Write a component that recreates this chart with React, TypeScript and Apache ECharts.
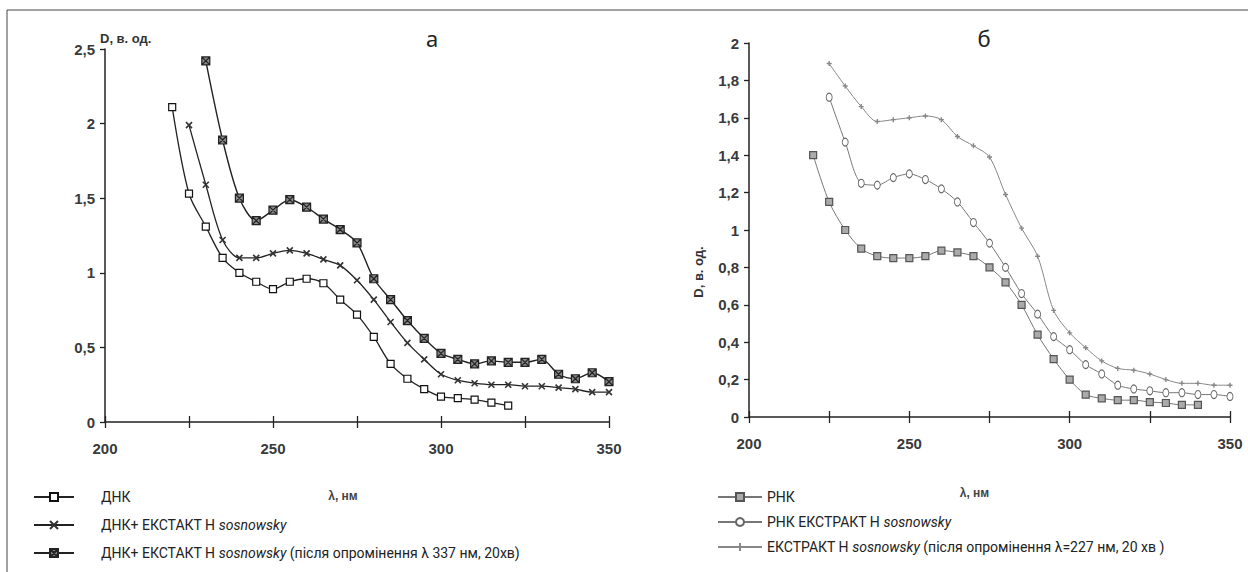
import React, { useEffect, useRef } from "react";
import * as echarts from "echarts";

// ---- data: panel а (ДНК) ----
const WL_DNA = [220, 225, 230, 235, 240, 245, 250, 255, 260, 265, 270, 275, 280, 285, 290, 295, 300, 305, 310, 315, 320];
const DNA = [2.11, 1.53, 1.31, 1.1, 1.0, 0.94, 0.89, 0.94, 0.96, 0.93, 0.82, 0.72, 0.57, 0.39, 0.29, 0.22, 0.17, 0.16, 0.15, 0.13, 0.11];
const WL_DNA_EXT = [225, 230, 235, 240, 245, 250, 255, 260, 265, 270, 275, 280, 285, 290, 295, 300, 305, 310, 315, 320, 325, 330, 335, 340, 345, 350];
const DNA_EXT = [1.99, 1.59, 1.22, 1.1, 1.1, 1.13, 1.15, 1.13, 1.09, 1.05, 0.95, 0.82, 0.67, 0.53, 0.42, 0.32, 0.28, 0.26, 0.25, 0.25, 0.24, 0.24, 0.23, 0.22, 0.2, 0.2];
const WL_DNA_IRR = [230, 235, 240, 245, 250, 255, 260, 265, 270, 275, 280, 285, 290, 295, 300, 305, 310, 315, 320, 325, 330, 335, 340, 345, 350];
const DNA_IRR = [2.42, 1.89, 1.5, 1.35, 1.42, 1.49, 1.44, 1.36, 1.29, 1.2, 0.96, 0.82, 0.68, 0.56, 0.46, 0.42, 0.39, 0.41, 0.4, 0.4, 0.42, 0.32, 0.29, 0.33, 0.27];

// ---- data: panel б (РНК) ----
const WL_RNA = [220, 225, 230, 235, 240, 245, 250, 255, 260, 265, 270, 275, 280, 285, 290, 295, 300, 305, 310, 315, 320, 325, 330, 335, 340];
const RNA = [1.4, 1.15, 1.0, 0.9, 0.86, 0.85, 0.85, 0.86, 0.89, 0.88, 0.86, 0.8, 0.72, 0.6, 0.44, 0.31, 0.2, 0.12, 0.1, 0.09, 0.09, 0.08, 0.075, 0.065, 0.065];
const WL_RNA_EXT = [225, 230, 235, 240, 245, 250, 255, 260, 265, 270, 275, 280, 285, 290, 295, 300, 305, 310, 315, 320, 325, 330, 335, 340, 345, 350];
const RNA_EXT = [1.71, 1.47, 1.25, 1.24, 1.28, 1.3, 1.27, 1.22, 1.15, 1.04, 0.93, 0.8, 0.66, 0.55, 0.43, 0.36, 0.28, 0.23, 0.17, 0.15, 0.14, 0.13, 0.13, 0.12, 0.12, 0.11];
const WL_EXT_IRR = [225, 230, 235, 240, 245, 250, 255, 260, 265, 270, 275, 280, 285, 290, 295, 300, 305, 310, 315, 320, 325, 330, 335, 340, 345, 350];
const EXT_IRR = [1.89, 1.77, 1.66, 1.58, 1.59, 1.6, 1.61, 1.59, 1.5, 1.45, 1.39, 1.19, 1.01, 0.86, 0.57, 0.45, 0.37, 0.3, 0.26, 0.25, 0.23, 0.2, 0.18, 0.18, 0.17, 0.17];

const X_TICKS_LABELED = [200, 250, 300, 350];

const NAMES = {
  dna: "ДНК",
  dnaExt: "ДНК+ ЕКСТАКТ Н sosnowsky",
  dnaIrr: "ДНК+ ЕКСТАКТ Н sosnowsky (після опромінення λ 337 нм, 20хв)",
  rna: "РНК",
  rnaExt: "РНК ЕКСТРАКТ Н sosnowsky",
  extIrr: "ЕКСТРАКТ Н sosnowsky (після опромінення λ=227 нм, 20 хв )",
};

const pairs = (xs: number[], ys: number[]) => xs.map((x, i) => [x, ys[i]]);

const LABEL_FONT = "'Liberation Sans Narrow', 'Liberation Sans', Arial, sans-serif";
const TEXT_FONT = "Roboto, 'Noto Sans', sans-serif";

function legendFormatter(name: string) {
  const idx = name.indexOf("sosnowsky");
  if (idx < 0) return `{n|${name}}`;
  const before = name.slice(0, idx);
  const after = name.slice(idx + "sosnowsky".length);
  return `{n|${before}}{i|sosnowsky}` + (after ? `{n|${after}}` : "");
}

export default function App() {
  const ref = useRef<HTMLDivElement>(null);

  useEffect(() => {
    if (!ref.current) return;
    const chart = echarts.init(ref.current, undefined, { renderer: "svg" });

    const xAxisBase = (grid: number, nameGap: number, padRight: number) => ({
      type: "value",
      gridIndex: grid,
      position: "bottom",
      min: 200,
      max: 350,
      interval: 25,
      name: "λ, нм",
      nameLocation: "middle",
      nameGap,
      nameTextStyle: {
        fontFamily: LABEL_FONT,
        fontWeight: "bold",
        fontSize: 12,
        color: "#444",
        padding: [0, padRight, 0, 0],
      },
      axisLine: { show: true, onZero: false, lineStyle: { color: "#222", width: 1.5 } },
      axisTick: { show: true, length: 6, lineStyle: { color: "#222", width: 1.3 } },
      axisLabel: {
        margin: 19,
        fontFamily: LABEL_FONT,
        fontWeight: "bold",
        fontSize: 15,
        color: "#3a3a3a",
        formatter: (v: number) => (X_TICKS_LABELED.includes(v) ? String(v) : ""),
      },
      splitLine: { show: false },
    });
    const xAxisInner = (grid: number) => ({
      type: "value",
      gridIndex: grid,
      position: "bottom",
      offset: 0,
      min: 200,
      max: 350,
      interval: 25,
      axisLine: { show: false, onZero: false },
      axisTick: { show: true, inside: true, length: 6, lineStyle: { color: "#222", width: 1.3 } },
      axisLabel: { show: false },
      splitLine: { show: false },
    });

    const yLabel = {
      fontFamily: LABEL_FONT,
      fontWeight: "bold",
      fontSize: 15,
      color: "#3a3a3a",
      margin: 10,
      formatter: (v: number) => String(v).replace(".", ","),
    };

    const legendText = {
      fontFamily: TEXT_FONT,
      fontSize: 14,
      color: "#222",
      padding: [0, 0, 0, 22],
      rich: {
        n: { fontFamily: TEXT_FONT, fontSize: 14, color: "#222" },
        i: { fontFamily: TEXT_FONT, fontSize: 14, color: "#222", fontStyle: "italic" },
      },
    };

    const option = {
      animation: false,
      backgroundColor: "#fff",
      graphic: [
        { type: "line", shape: { x1: 7, y1: 10, x2: 1248, y2: 10 }, style: { stroke: "#444", lineWidth: 1 } },
        { type: "line", shape: { x1: 7, y1: 10, x2: 7, y2: 572 }, style: { stroke: "#444", lineWidth: 1 } },
        {
          type: "text",
          x: 432,
          y: 38,
          style: { text: "а", font: "22px 'Noto Sans', sans-serif", fill: "#222", textAlign: "center", textVerticalAlign: "middle" },
        },
        {
          type: "text",
          x: 984,
          y: 38,
          style: { text: "б", font: "22px 'Noto Sans', sans-serif", fill: "#222", textAlign: "center", textVerticalAlign: "middle" },
        },
      ],
      grid: [
        { left: 105, top: 49, width: 504, height: 373 },
        { left: 749, top: 43, width: 481, height: 374 },
      ],
      xAxis: [xAxisBase(0, 68, 28), xAxisInner(0), xAxisBase(1, 70, 30), xAxisInner(1)],
      yAxis: [
        {
          type: "value",
          gridIndex: 0,
          min: 0,
          max: 2.5,
          interval: 0.5,
          name: "D, в. од.",
          nameLocation: "end",
          nameGap: 11,
          nameTextStyle: {
            fontFamily: LABEL_FONT,
            fontWeight: "bold",
            fontSize: 13,
            color: "#333",
            align: "left",
            verticalAlign: "middle",
            padding: [0, 0, 0, -5],
          },
          axisLine: { show: true, onZero: false, lineStyle: { color: "#222", width: 1.5 } },
          axisTick: { show: true, length: 5, lineStyle: { color: "#222", width: 1.3 } },
          axisLabel: yLabel,
          splitLine: { show: false },
        },
        {
          type: "value",
          gridIndex: 1,
          min: 0,
          max: 2,
          interval: 0.2,
          name: "D, в. од.",
          nameLocation: "middle",
          nameRotate: 90,
          nameGap: 44,
          nameTextStyle: {
            fontFamily: LABEL_FONT,
            fontWeight: "bold",
            fontSize: 13,
            color: "#333",
            padding: [0, 84, 0, 0],
          },
          axisLine: { show: true, onZero: false, lineStyle: { color: "#222", width: 1.5 } },
          axisTick: { show: true, length: 5, lineStyle: { color: "#222", width: 1.3 } },
          axisLabel: yLabel,
          splitLine: { show: false },
        },
      ],
      legend: [
        {
          data: [NAMES.dna, NAMES.dnaExt, NAMES.dnaIrr],
          orient: "vertical",
          left: 28,
          top: 485,
          itemWidth: 40,
          itemHeight: 10,
          itemGap: 14,
          formatter: legendFormatter,
          textStyle: legendText,
          selectedMode: false,
        },
        {
          data: [NAMES.rna, NAMES.rnaExt, NAMES.extIrr],
          orient: "vertical",
          left: 712,
          top: 485,
          itemWidth: 44,
          itemHeight: 10,
          itemGap: 11,
          formatter: legendFormatter,
          textStyle: { ...legendText, padding: [0, 0, 0, 0] },
          selectedMode: false,
        },
      ],
      series: [
        {
          name: NAMES.dna,
          type: "line",
          xAxisIndex: 0,
          yAxisIndex: 0,
          data: pairs(WL_DNA, DNA),
          smooth: 0.3,
          symbol: "rect",
          symbolSize: 7,
          lineStyle: { color: "#222", width: 1.3 },
          itemStyle: { color: "#fff", borderColor: "#111", borderWidth: 1.2 },
        },
        {
          name: NAMES.dnaExt,
          type: "line",
          xAxisIndex: 0,
          yAxisIndex: 0,
          data: pairs(WL_DNA_EXT, DNA_EXT),
          smooth: 0.3,
          symbol: "path://M0,0L10,10M10,0L0,10",
          symbolSize: 6,
          lineStyle: { color: "#222", width: 1.3 },
          itemStyle: { color: "#333", borderColor: "#333", borderWidth: 1.6 },
        },
        {
          name: NAMES.dnaIrr,
          type: "line",
          xAxisIndex: 0,
          yAxisIndex: 0,
          data: pairs(WL_DNA_IRR, DNA_IRR),
          smooth: 0.3,
          symbol: "path://M0,0H10V10H0ZM0,0L10,10M10,0L0,10",
          symbolSize: 8,
          lineStyle: { color: "#222", width: 1.4 },
          itemStyle: { color: "#888", borderColor: "#222", borderWidth: 1.2 },
        },
        {
          name: NAMES.rna,
          type: "line",
          xAxisIndex: 2,
          yAxisIndex: 1,
          data: pairs(WL_RNA, RNA),
          smooth: 0.3,
          symbol: "rect",
          symbolSize: 7,
          lineStyle: { color: "#777", width: 1 },
          itemStyle: { color: "#aaa", borderColor: "#555", borderWidth: 1.2 },
        },
        {
          name: NAMES.rnaExt,
          type: "line",
          xAxisIndex: 2,
          yAxisIndex: 1,
          data: pairs(WL_RNA_EXT, RNA_EXT),
          smooth: 0.3,
          symbol: "circle",
          symbolSize: [6, 8],
          lineStyle: { color: "#777", width: 1 },
          itemStyle: { color: "#fff", borderColor: "#666", borderWidth: 1 },
        },
        {
          name: NAMES.extIrr,
          type: "line",
          xAxisIndex: 2,
          yAxisIndex: 1,
          data: pairs(WL_EXT_IRR, EXT_IRR),
          smooth: 0.3,
          symbol: "path://M5,0V10M0,5H10",
          symbolSize: 5,
          lineStyle: { color: "#888", width: 1 },
          itemStyle: { color: "#999", borderColor: "#888", borderWidth: 1.4 },
        },
      ],
    };

    chart.setOption(option as any);
    return () => chart.dispose();
  }, []);

  return (
    <div
      ref={ref}
      style={{ position: "absolute", left: 0, top: 0, width: 1248, height: 572, background: "#fff" }}
    />
  );
}
